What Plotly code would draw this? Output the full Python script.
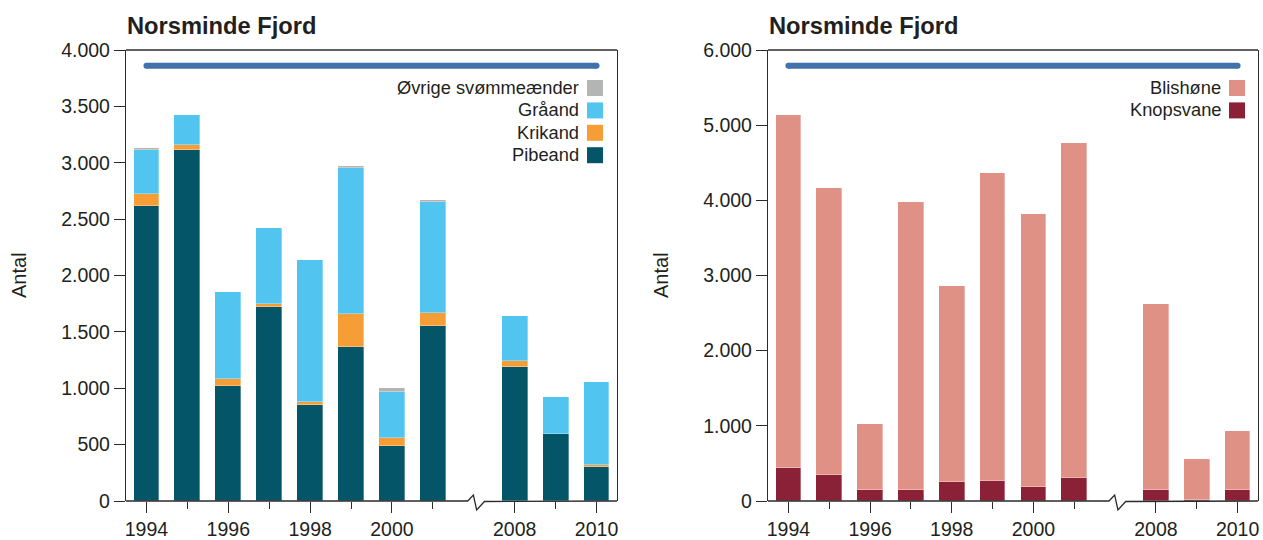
import plotly.graph_objects as go

# Survey years (the axis has a break between 2001 and 2008)
years = [1994, 1995, 1996, 1997, 1998, 1999, 2000, 2001, 2008, 2009, 2010]

# Left panel: dabbling ducks
pibeand = [2620, 3115, 1020, 1720, 855, 1370, 490, 1550, 1190, 590, 305]
krikand = [100, 40, 65, 30, 20, 285, 65, 120, 50, 0, 15]
graaand = [395, 265, 770, 670, 1260, 1300, 415, 980, 400, 330, 735]
oevrige = [20, 0, 0, 0, 0, 20, 35, 20, 0, 0, 0]

# Right panel: coot and mute swan
knopsvane = [440, 340, 150, 150, 250, 270, 180, 300, 150, 20, 150]
blishoene = [4690, 3830, 870, 3830, 2610, 4090, 3640, 4460, 2470, 540, 785]

tick_years = [1994, 1996, 1998, 2000, 2008, 2010]
minor_years = [1995, 1997, 1999, 2001, 2009]

left_series = [("Pibeand", pibeand, "#045567"),
               ("Krikand", krikand, "#f79d36"),
               ("Gråand", graaand, "#51c4ef"),
               ("Øvrige svømmeænder", oevrige, "#b3b4b4")]
right_series = [("Knopsvane", knopsvane, "#8a2136"),
                ("Blishøne", blishoene, "#e09186")]

W, H = 1263, 540
TXT = "#231f20"
FRAME = "#2b2b2b"
FONT = "Liberation Sans, Arial, Helvetica, sans-serif"


def slot(year):
    # years after the gap are shifted so the break takes one slot
    return year - 1994 if year <= 2001 else year - 1994 - 5


xs = [slot(y) for y in years]
XR = [-0.5, 11.5]

# pixel boxes of the two plot areas
left_box = (126, 617)
right_box = (768, 1258)
top_px, bot_px = 50, 501


def px(x):
    return x / W


def py(y):
    return 1 - y / H


def dom(box):
    return [px(box[0]), px(box[1])]


ydom = [py(bot_px), py(top_px)]

fig = go.Figure()

for name, vals, col in left_series:
    fig.add_trace(go.Bar(x=xs, y=vals, name=name, marker_color=col,
                         marker_line=dict(color="rgba(255,255,255,0.55)", width=0.6),
                         width=0.63, xaxis="x", yaxis="y", showlegend=False))
for name, vals, col in right_series:
    fig.add_trace(go.Bar(x=xs, y=vals, name=name, marker_color=col,
                         marker_line=dict(color="rgba(255,255,255,0.55)", width=0.6),
                         width=0.63, xaxis="x2", yaxis="y2", showlegend=False))

# blue period bar across the top of each panel
for xa, ya, yv in (("x", "y", 3860), ("x2", "y2", 5790)):
    fig.add_trace(go.Scatter(x=[slot(years[0]), slot(years[-1])], y=[yv, yv],
                             mode="lines+markers", xaxis=xa, yaxis=ya,
                             line=dict(color="#4272aa", width=6),
                             marker=dict(color="#4272aa", size=6, symbol="circle"),
                             hoverinfo="skip", showlegend=False))

tick_font = dict(family=FONT, size=19.5, color=TXT)

xcommon = dict(range=XR, showline=False, showgrid=False, zeroline=False,
               tickmode="array", tickvals=[slot(y) for y in tick_years],
               ticktext=[str(y) for y in tick_years],
               ticks="outside", ticklen=11, tickwidth=1.3, tickcolor=FRAME,
               tickfont=tick_font,
               minor=dict(tickmode="array", tickvals=[slot(y) for y in minor_years],
                          ticks="outside", ticklen=7, tickwidth=1.3, tickcolor=FRAME,
                          showgrid=False),
               fixedrange=True)
ycommon = dict(showline=True, mirror=True, linecolor=FRAME, linewidth=1.3,
               showgrid=False, zeroline=False, ticks="outside", ticklen=11,
               tickwidth=1.3, tickcolor=FRAME, tickfont=tick_font,
               tickformat=",d", fixedrange=True)

fig.update_layout(
    width=W, height=H,
    margin=dict(l=0, r=0, t=0, b=0, autoexpand=False),
    paper_bgcolor="white", plot_bgcolor="white",
    separators=",.",
    barmode="stack", bargap=0,
    font=dict(family=FONT, color=TXT),
    xaxis=dict(domain=dom(left_box), anchor="y", **xcommon),
    yaxis=dict(domain=ydom, anchor="x", range=[0, 4000], dtick=500, **ycommon),
    xaxis2=dict(domain=dom(right_box), anchor="y2", **xcommon),
    yaxis2=dict(domain=ydom, anchor="x2", range=[0, 6000], dtick=1000, **ycommon),
)

shapes = []
annotations = []


def xpaper(box, s):
    return px(box[0] + (s - XR[0]) / (XR[1] - XR[0]) * (box[1] - box[0]))


for box in (left_box, right_box):
    # top frame line
    shapes.append(dict(type="line", xref="paper", yref="paper",
                       x0=px(box[0]), x1=px(box[1]), y0=py(top_px), y1=py(top_px),
                       line=dict(color=FRAME, width=1.3)))
    # bottom frame line with the axis-break zigzag
    pts = [(XR[0], 0), (7.85, 0), (7.99, 6), (8.07, -9), (8.26, -0.5), (XR[1], 0)]
    path = " ".join(("M" if i == 0 else "L") + f" {xpaper(box, s):.5f},{py(bot_px - d):.5f}"
                    for i, (s, d) in enumerate(pts))
    shapes.append(dict(type="path", xref="paper", yref="paper", path=path,
                       line=dict(color=FRAME, width=1.3)))
    # panel title
    annotations.append(dict(text="<b>Norsminde Fjord</b>", xref="paper", yref="paper",
                            x=px(box[0] - 1), y=py(26), xanchor="left", yanchor="middle",
                            showarrow=False, font=dict(family=FONT, size=23.7, color=TXT)))
    # y-axis title
    annotations.append(dict(text="Antal", xref="paper", yref="paper",
                            x=px(box[0] - 107), y=py(275), xanchor="center", yanchor="middle",
                            textangle=-90, showarrow=False,
                            font=dict(family=FONT, size=20, color=TXT)))


def legend(items, text_right, sw_left, first_y):
    for i, (name, col) in enumerate(items):
        yc = first_y + i * 22.4
        annotations.append(dict(text=name, xref="paper", yref="paper",
                                x=px(text_right), y=py(yc), xanchor="right", yanchor="middle",
                                showarrow=False, font=dict(family=FONT, size=18.3, color=TXT)))
        shapes.append(dict(type="rect", xref="paper", yref="paper",
                           x0=px(sw_left), x1=px(sw_left + 16),
                           y0=py(yc + 8.5), y1=py(yc - 7.5),
                           fillcolor=col, line=dict(width=0)))


legend([(n, c) for n, _, c in reversed(left_series)], 581, 587, 87.5)
legend([(n, c) for n, _, c in reversed(right_series)], 1223, 1229, 87.5)

fig.update_layout(shapes=shapes, annotations=annotations)

fig.write_html("out.html")
